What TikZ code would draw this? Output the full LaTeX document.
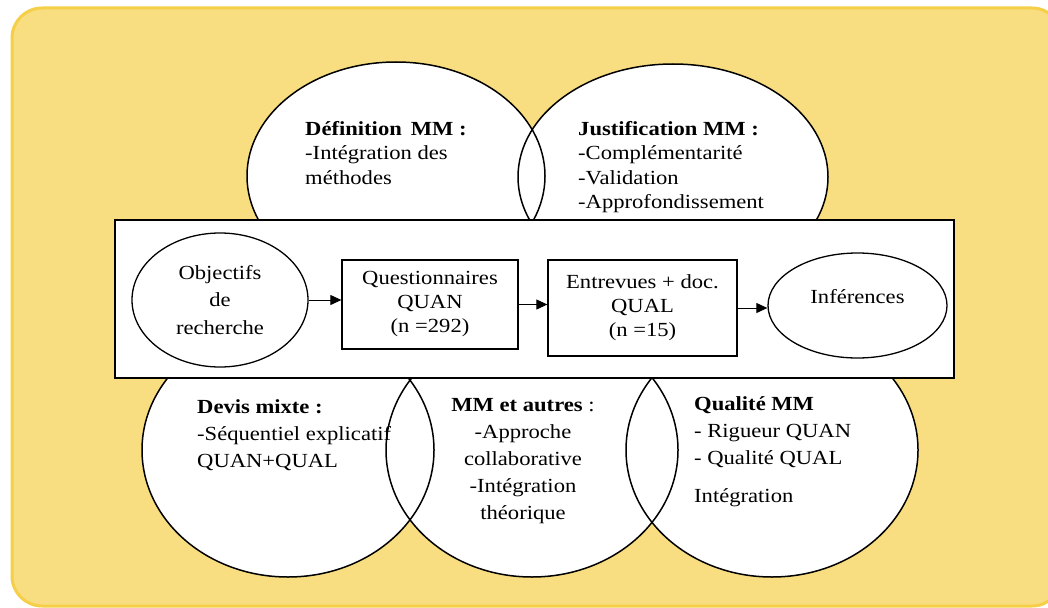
\documentclass[tikz,border=0pt]{standalone}
\usepackage{fontspec}
\setmainfont[FakeStretch=1.13]{Liberation Serif}
\usetikzlibrary{arrows.meta,shapes.geometric}
\definecolor{bgfill}{HTML}{F8DD81}
\definecolor{bgline}{HTML}{F5CF48}
\begin{document}
\begin{tikzpicture}[x=1pt,y=-1pt,
  every node/.style={inner sep=0pt, font=\fontsize{20}{24}\selectfont},
  vennfill/.style={fill=white},
  vennline/.style={draw=black, line width=1.5pt},
  blk/.style={draw=black, line width=1.3pt, fill=white},
  txt/.style={anchor=north west, align=left},
  arr/.style={line width=1pt, -{Triangle[length=11pt,width=10pt]}}]
\useasboundingbox (0,0) rectangle (1048,607);
% background panel
\begin{scope}
  \clip (0,0) rectangle (1048,607);
  \draw[bgline, line width=3pt, fill=bgfill, rounded corners=30pt] (12,8) rectangle (1062,606);
\end{scope}
% venn-like ellipses: fills first, then outlines
\foreach \cx/\cy/\rx/\ry in {396/176/149/114, 673/177/155/113, 288/450/146/127, 532/450/146/127, 772/450/146/127}{
  \path[vennfill] (\cx,\cy) ellipse [x radius=\rx pt, y radius=\ry pt];
}
\foreach \cx/\cy/\rx/\ry in {396/176/149/114, 673/177/155/113, 288/450/146/127, 532/450/146/127, 772/450/146/127}{
  \path[vennline] (\cx,\cy) ellipse [x radius=\rx pt, y radius=\ry pt];
}
% texts in ellipses
\node[txt, font=\fontsize{20}{24.5}\selectfont] (defn) at (305,117.9)
  {\strut\textbf{Définition\hspace{0.45em}MM :}\\-Intégration des\\méthodes};
\node[txt, font=\fontsize{20}{24.5}\selectfont] (just) at (578,117.9)
  {\strut\textbf{Justification MM :}\\-Complémentarité\\-Validation\\-Approfondissement};
% central frame
\node[blk, line width=1.5pt, minimum width=839pt, minimum height=158pt] (frame) at (534.5,299) {};
\node[blk, ellipse, minimum width=176pt, minimum height=134pt, align=center,
      font=\fontsize{20}{27.5}\selectfont] (obj) at (220,300) {Objectifs\\de\\recherche};
\node[blk, minimum width=176pt, minimum height=89pt, align=center] (q) at (430,304.5)
  {Questionnaires\\QUAN\\(n =292)};
\node[blk, minimum width=189pt, minimum height=96pt, align=center] (e) at (642.5,308)
  {Entrevues + doc.\\QUAL\\(n =15)};
\node[blk, ellipse, minimum width=179pt, minimum height=105pt] (inf) at (857.5,305.5)
  {\raisebox{2pt}[0pt][0pt]{Inférences}};
\draw[arr] (obj.east) -- (obj.east -| q.west);
\draw[arr] (q.east) -- (q.east -| e.west);
\draw[arr] (e.east) -- (e.east -| inf.west);
% bottom texts
\node[txt, font=\fontsize{20}{27}\selectfont] (devis) at (197,394.1)
  {\strut\textbf{Devis mixte :}\\-Séquentiel explicatif\\QUAN+QUAL};
\node[anchor=north, align=center, font=\fontsize{20}{27}\selectfont] (autres) at (523,392.1)
  {\strut\textbf{MM et autres} :\\-Approche\\collaborative\\-Intégration\\théorique};
\node[txt, font=\fontsize{20}{27}\selectfont] (qual) at (694,391.1)
  {\strut\textbf{Qualité MM}\\- Rigueur QUAN\\- Qualité QUAL\\[11pt]Intégration};
\end{tikzpicture}
\end{document}
